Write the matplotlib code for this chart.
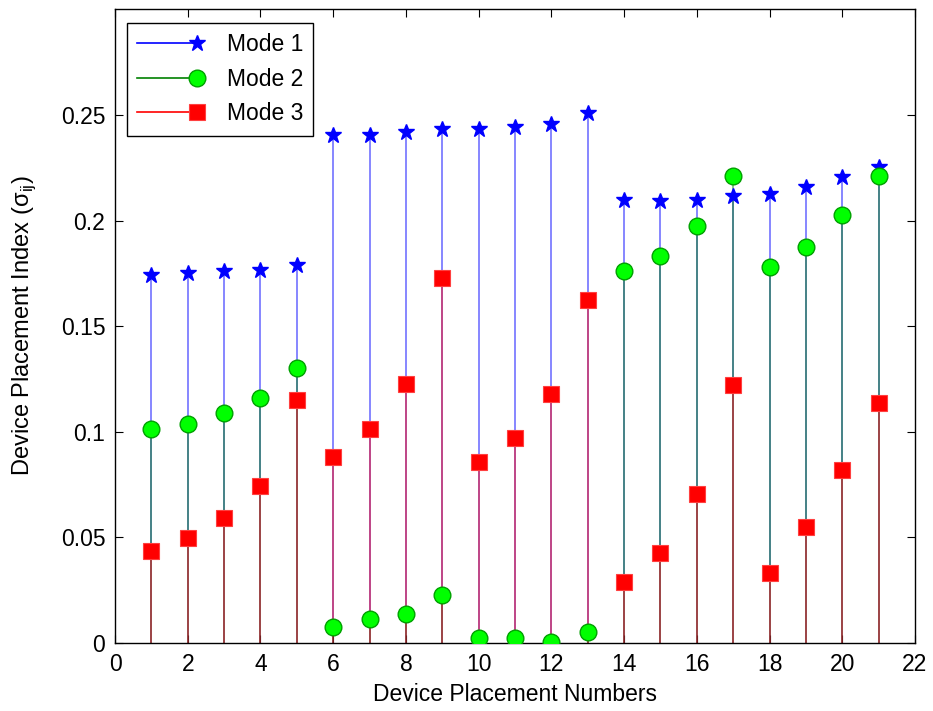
import numpy as np
import matplotlib
matplotlib.use("Agg")
import matplotlib.pyplot as plt
from matplotlib.lines import Line2D
from matplotlib.legend_handler import HandlerBase

plt.rcParams['font.family'] = ['Liberation Sans', 'DejaVu Sans']
plt.rcParams['mathtext.fontset'] = 'custom'
plt.rcParams['mathtext.rm'] = 'Liberation Sans'

devices = np.arange(1, 22)

mode1 = [0.174, 0.175, 0.176, 0.1766, 0.179, 0.2403, 0.2403, 0.2419, 0.2431, 0.2431,
         0.2441, 0.2457, 0.2507, 0.2097, 0.209, 0.2097, 0.2114, 0.2124, 0.216, 0.2204, 0.2251]
mode2 = [0.1011, 0.1038, 0.109, 0.1158, 0.130, 0.0075, 0.0112, 0.0138, 0.0226, 0.0024,
         0.0025, 0.0006, 0.005, 0.1761, 0.1832, 0.1972, 0.2209, 0.178, 0.1876, 0.2025, 0.2209]
mode3 = [0.0435, 0.0496, 0.0593, 0.0741, 0.115, 0.0882, 0.1012, 0.1224, 0.173, 0.0856,
         0.0969, 0.1177, 0.1625, 0.0287, 0.0427, 0.0706, 0.1221, 0.0331, 0.055, 0.0819, 0.1135]

labels = ['Mode 1', 'Mode 2', 'Mode 3']
line_colors = ['#0000ff', '#008000', '#ff0000']
marker_style = [dict(marker='*', ms=12, mfc='#0000ff', mec='#0000ff'),
                dict(marker='o', ms=12, mfc='#00ff00', mec='#00a000', mew=1),
                dict(marker='s', ms=11, mfc='#ff0000', mec='#ff4040', mew=0.8)]

FS = 16.5


class StemHandler(HandlerBase):
    # line with the marker sitting at its right end, like matlab's stem legend
    def create_artists(self, legend, orig, xdescent, ydescent, width, height, fontsize, trans):
        y = height / 2 - ydescent
        x0, x1 = -xdescent, width - xdescent
        ln = Line2D([x0, x1], [y, y], color=orig.get_color(), lw=1.2)
        mk = Line2D([x1], [y], linestyle='none')
        mk.update_from(orig)
        mk.set_linestyle('none')
        mk.set_data([x1], [y])
        ln.set_transform(trans)
        mk.set_transform(trans)
        return [ln, mk]


fig = plt.figure(figsize=(9.33, 7.11), dpi=100)
ax = fig.add_axes([0.1233, 0.0956, 0.8574, 0.8914])

handles = []
for vals, lc, ms, lab in zip([mode1, mode2, mode3], line_colors, marker_style, labels):
    ax.vlines(devices, 0, vals, colors=lc, lw=1.1, alpha=0.6, zorder=2)
    ax.plot(devices, vals, linestyle='none', zorder=3, **ms)
    h = Line2D([], [], color=lc, **ms)
    handles.append(h)

ax.set_xlim(0, 22)
ax.set_ylim(0, 0.3)
ax.set_xticks(np.arange(0, 23, 2))
ax.set_yticks([0, 0.05, 0.1, 0.15, 0.2, 0.25])
ax.set_yticklabels(['0', '0.05', '0.1', '0.15', '0.2', '0.25'])
ax.tick_params(direction='in', length=6, width=0.8, labelsize=FS,
               top=True, right=True, pad=7)
for sp in ax.spines.values():
    sp.set_linewidth(1.0)

ax.set_xlabel('Device Placement Numbers', fontsize=FS, labelpad=5)
ax.set_ylabel('Device Placement Index (σ$_{\\rm ij}$)', fontsize=FS + 0.5, labelpad=16)

leg = ax.legend(handles, labels, loc='upper left', bbox_to_anchor=(0.015, 0.978),
                fontsize=FS, handler_map={Line2D: StemHandler()}, handlelength=2.6,
                handletextpad=1.3, borderpad=0.45, labelspacing=0.5, fancybox=False,
                framealpha=1, edgecolor='black', borderaxespad=0)
leg.get_frame().set_linewidth(1.0)

fig.savefig('out.png', dpi=100)
